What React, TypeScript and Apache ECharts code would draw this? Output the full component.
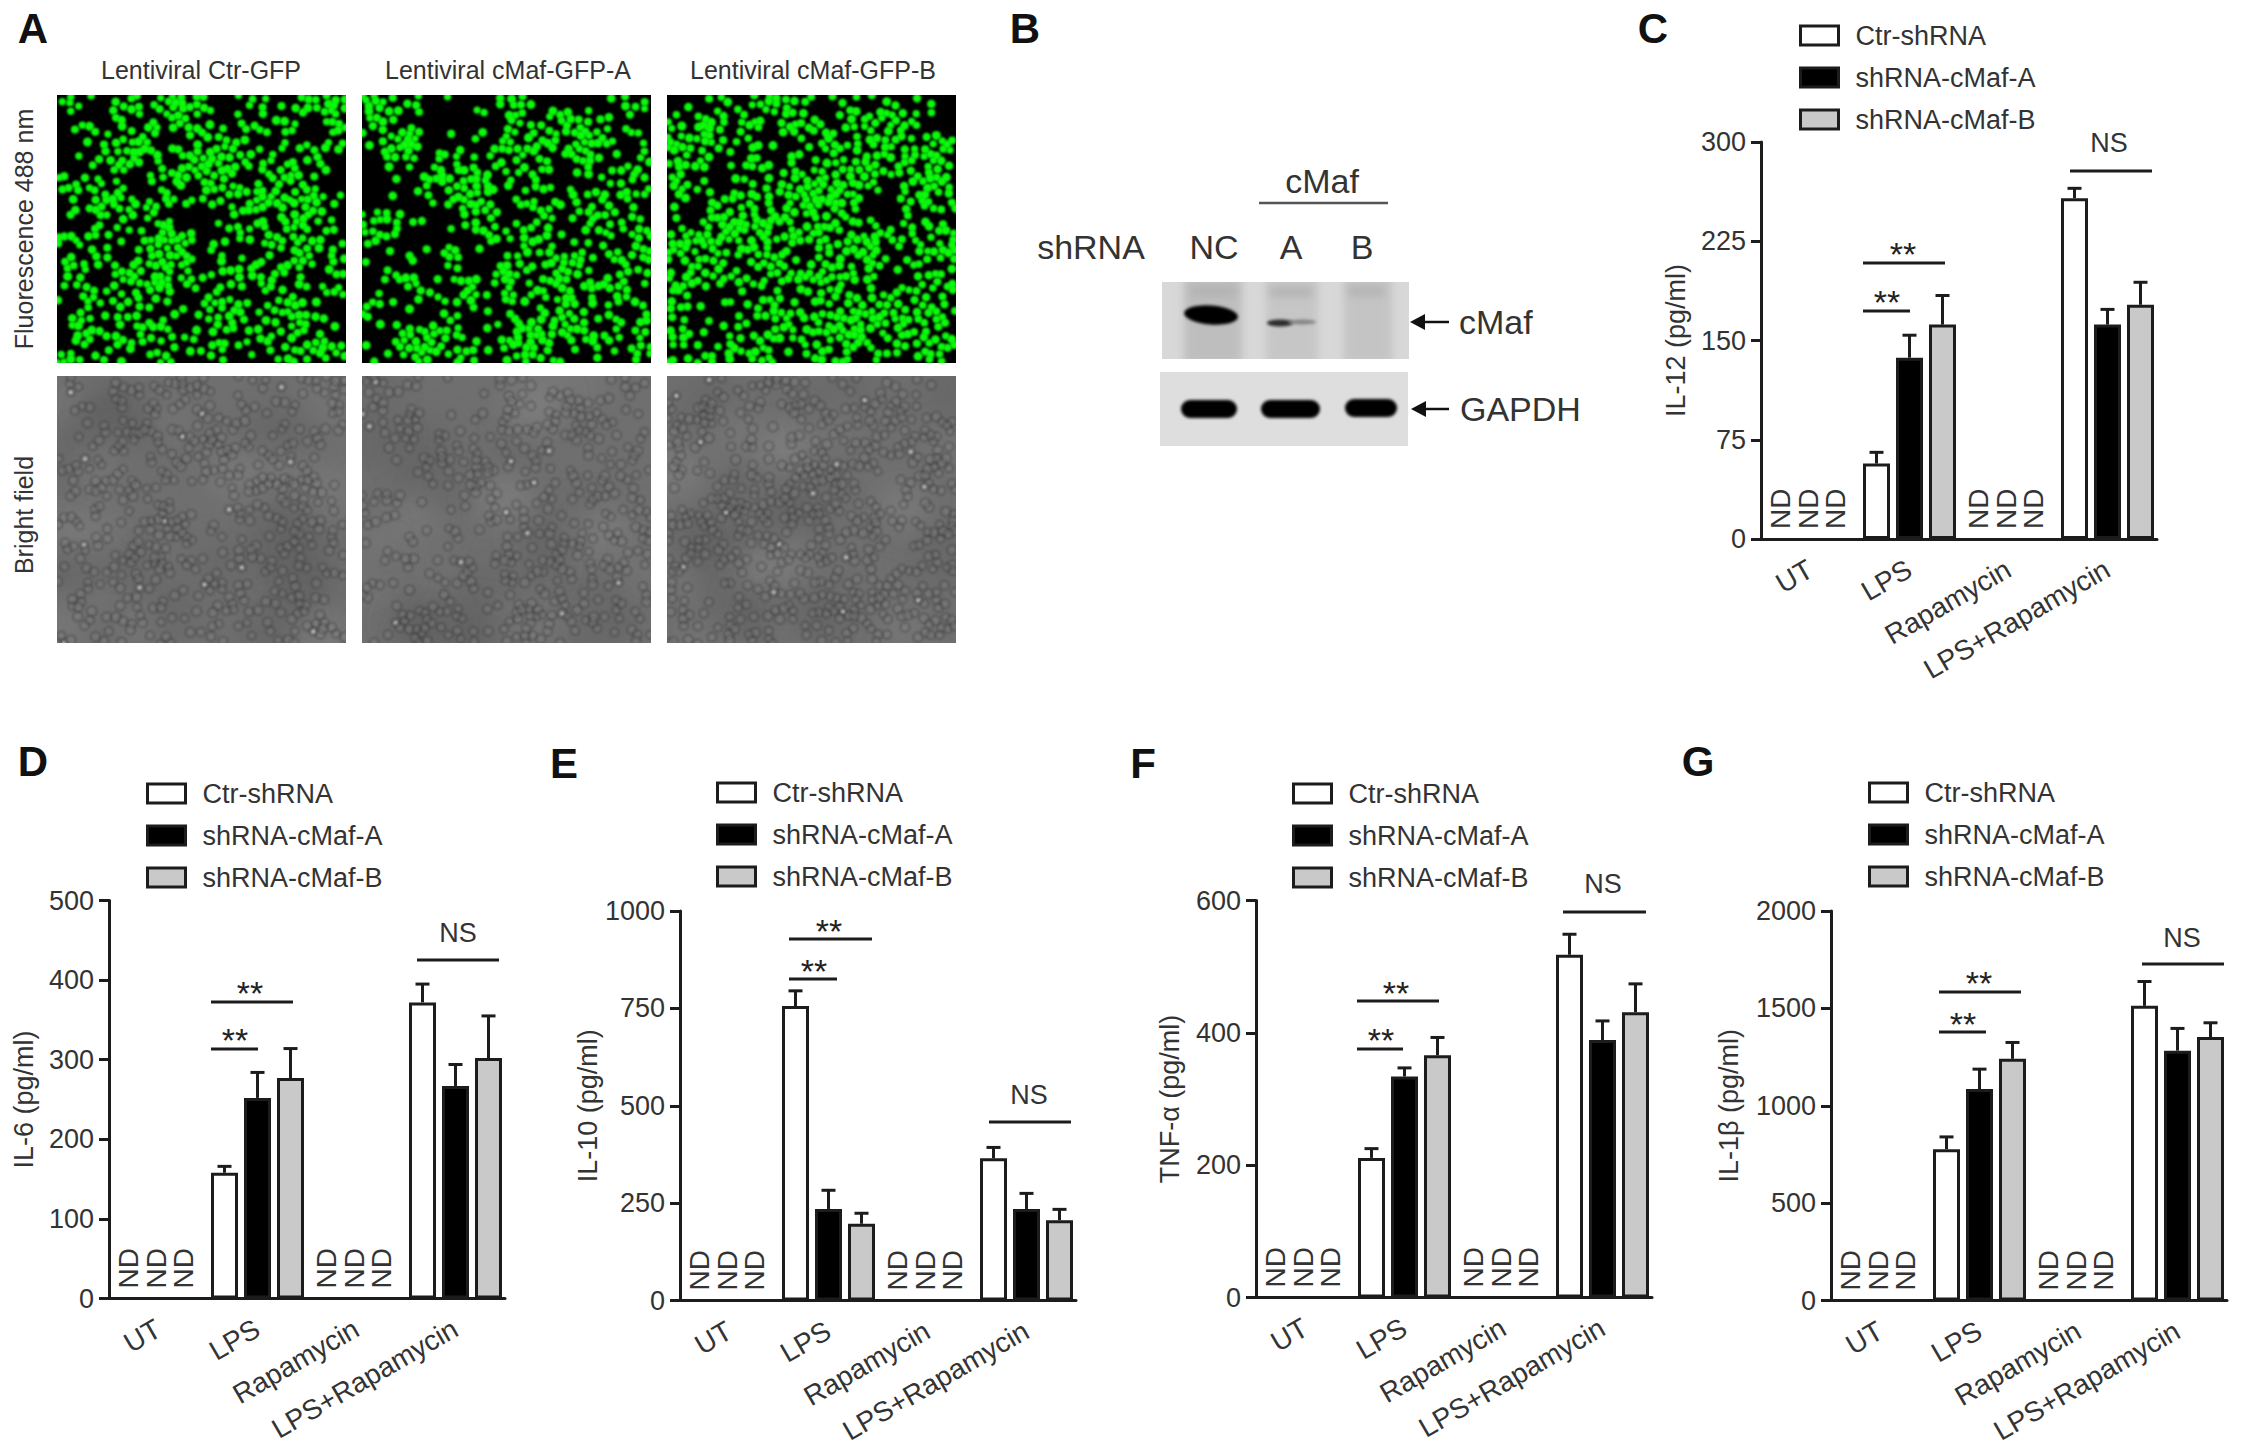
import React, { useEffect, useRef } from "react";
import * as echarts from "echarts";

const categories = ["UT", "LPS", "Rapamycin", "LPS+Rapamycin"];
const groupNames = ["Ctr-shRNA", "shRNA-cMaf-A", "shRNA-cMaf-B"];
const ndCategories = [0, 2];

// Values. null = not detected (ND).
const il12Ctr = [null, 57, null, 257.5];
const il12A = [null, 137, null, 162];
const il12B = [null, 162, null, 177];
const il12CtrErr = [null, 8.5, null, 7.5];
const il12AErr = [null, 17, null, 11.5];
const il12BErr = [null, 22, null, 17];

const il6Ctr = [null, 158, null, 372];
const il6A = [null, 252, null, 267];
const il6B = [null, 277, null, 302];
const il6CtrErr = [null, 8, null, 23];
const il6AErr = [null, 32, null, 27];
const il6BErr = [null, 37, null, 53];

const il10Ctr = [null, 756, null, 365];
const il10A = [null, 235, null, 235];
const il10B = [null, 197, null, 206];
const il10CtrErr = [null, 39, null, 28];
const il10AErr = [null, 48, null, 40];
const il10BErr = [null, 27, null, 28];

const tnfCtr = [null, 211, null, 518];
const tnfA = [null, 334, null, 389];
const tnfB = [null, 366, null, 431];
const tnfCtrErr = [null, 14, null, 31];
const tnfAErr = [null, 13, null, 29];
const tnfBErr = [null, 27, null, 43];

const il1Ctr = [null, 777, null, 1513];
const il1A = [null, 1086, null, 1283];
const il1B = [null, 1241, null, 1353];
const il1CtrErr = [null, 63, null, 125];
const il1AErr = [null, 102, null, 114];
const il1BErr = [null, 84, null, 73];

const INK = "#1c1c1c";
const TXT = "#333333";
const FONT = '"Liberation Sans", Arial, sans-serif';
const fills = ["#ffffff", "#000000", "#c9c9c9"];

const panels = [
  { name: "IL-12 (pg/ml)", max: 300, step: 75, left: 1761, top: 142, bottom: 539, gap: 72, legendLeft: 1799, legendTop: 22,
    means: [il12Ctr, il12A, il12B], errs: [il12CtrErr, il12AErr, il12BErr],
    ns: [2109, 143, 2070, 2152, 171], s1: [1903, 247, 1863, 1945, 263], s2: [1887, 295, 1863, 1910, 311] },
  { name: "IL-6 (pg/ml)", max: 500, step: 100, left: 109, top: 900.5, bottom: 1298.5, gap: 72, legendLeft: 146, legendTop: 780,
    means: [il6Ctr, il6A, il6B], errs: [il6CtrErr, il6AErr, il6BErr],
    ns: [458, 933, 417, 499, 960], s1: [250, 986, 211, 293, 1002], s2: [235, 1033, 211, 258, 1049] },
  { name: "IL-10 (pg/ml)", max: 1000, step: 250, left: 680, top: 911, bottom: 1300.5, gap: 74, legendLeft: 716, legendTop: 779,
    means: [il10Ctr, il10A, il10B], errs: [il10CtrErr, il10AErr, il10BErr],
    ns: [1029, 1095, 989, 1071, 1122], s1: [829, 924, 789, 872, 939], s2: [814, 964, 789, 837, 979] },
  { name: "TNF-α (pg/ml)", max: 600, step: 200, left: 1256, top: 900.5, bottom: 1297.5, gap: 73, legendLeft: 1292, legendTop: 780,
    means: [tnfCtr, tnfA, tnfB], errs: [tnfCtrErr, tnfAErr, tnfBErr],
    ns: [1603, 884, 1563, 1646, 912], s1: [1396, 986, 1357, 1439, 1001], s2: [1381, 1033, 1357, 1403, 1049] },
  { name: "IL-1β (pg/ml)", max: 2000, step: 500, left: 1831, top: 911, bottom: 1300.5, gap: 89, legendLeft: 1868, legendTop: 779,
    means: [il1Ctr, il1A, il1B], errs: [il1CtrErr, il1AErr, il1BErr],
    ns: [2182, 938, 2142, 2224, 964], s1: [1979, 976, 1939, 2021, 992], s2: [1963, 1017, 1939, 1986, 1032] },
];

// Stand-in micrograph textures: cell density per 15x14 block.
const maskCtr = ["753668983574689","463737863666538","116983577545546","156846788766662","874456777656751","449867646798774","546647335766872","765569915567775","656589916455846","663779735776516","476567368557656","364774467747843","585687357665763","865647456437877"];
const maskA = ["977132367224356","766211386578762","489235387769634","266387545748566","122789755745447","333559627365756","873447724727666","851223747646738","435373367777478","276356576587676","635648375697575","724364355766556","158875359977656","448877468634558"];
const maskB = ["246468763747651","768674875678721","987563348767778","773373757886886","862446788774696","637776798832788","548887687642653","787778877687758","887678647775588","788667778763377","633657577668767","752367767888786","754647768977766","776786477765477"];

function makeDots(mask: string[], w: number, h: number, seed: number) {
  let s = seed;
  const rnd = () => { s = (s * 1664525 + 1013904223) % 4294967296; return s / 4294967296; };
  const cw = w / 15, ch = h / mask.length;
  const dots: number[][] = [];
  mask.forEach((row, r) => {
    for (let c = 0; c < row.length; c++) {
      const d = Number(row[c]);
      const n = Math.floor(d * d * 0.085 + rnd());
      for (let i = 0; i < n; i++) {
        for (let t = 0; t < 14; t++) {
          const x = (c + rnd()) * cw, y = (r + rnd()) * ch;
          if (dots.every((q) => (q[0] - x) * (q[0] - x) + (q[1] - y) * (q[1] - y) > 30)) {
            dots.push([x, y, 3.6 + rnd() * 1]);
            break;
          }
        }
      }
    }
  });
  return dots;
}

function newCanvas(w: number, h: number) {
  const c = document.createElement("canvas");
  c.width = w; c.height = h;
  return [c, c.getContext("2d") as CanvasRenderingContext2D] as const;
}

function fluorescence(dots: number[][], w: number, h: number) {
  const [c, x] = newCanvas(w, h);
  x.fillStyle = "#000"; x.fillRect(0, 0, w, h);
  x.filter = "blur(0.8px)";
  x.fillStyle = "#0cfa0c";
  dots.forEach((d) => { x.beginPath(); x.arc(d[0], d[1], d[2], 0, Math.PI * 2); x.fill(); });
  return c.toDataURL();
}

function brightField(dots: number[][], w: number, h: number, seed: number) {
  const [c, x] = newCanvas(w, h);
  x.fillStyle = "#6f6f6f"; x.fillRect(0, 0, w, h);
  let s = seed;
  const rnd = () => { s = (s * 1664525 + 1013904223) % 4294967296; return s / 4294967296; };
  x.filter = "blur(14px)";
  for (let i = 0; i < 40; i++) {
    x.fillStyle = rnd() > 0.5 ? "rgba(135,135,135,0.35)" : "rgba(88,88,88,0.3)";
    x.beginPath(); x.arc(rnd() * w, rnd() * h, 12 + rnd() * 22, 0, Math.PI * 2); x.fill();
  }
  x.filter = "blur(1.1px)";
  dots.forEach((d, i) => {
    if (i % 4 === 0) return;
    x.strokeStyle = "rgba(58,58,58,0.55)"; x.lineWidth = 1.3;
    x.beginPath(); x.arc(d[0], d[1], d[2] + 0.4, 0, Math.PI * 2); x.stroke();
    x.fillStyle = "rgba(140,140,140,0.25)";
    x.beginPath(); x.arc(d[0], d[1], d[2] - 1.2, 0, Math.PI * 2); x.fill();
    if (i % 37 === 1) { x.fillStyle = "rgba(225,225,225,0.9)"; x.beginPath(); x.arc(d[0], d[1], 1.5, 0, Math.PI * 2); x.fill(); }
  });
  return c.toDataURL();
}

function blotTop(w: number, h: number) {
  const [c, x] = newCanvas(w, h);
  x.fillStyle = "#d8d8d8"; x.fillRect(0, 0, w, h);
  x.filter = "blur(4px)";
  [[22, 58, "#bebebe"], [104, 52, "#c6c6c6"], [182, 48, "#c4c4c4"]].forEach((l: any) => { x.fillStyle = l[2]; x.fillRect(l[0], -5, l[1], h + 10); });
  x.fillStyle = "#b0b0b0";
  [[28, 5, 46], [108, 6, 42], [186, 5, 36]].forEach((l) => x.fillRect(l[0], l[1], l[2], 8));
  x.filter = "blur(1.6px)";
  x.fillStyle = "#000";
  x.beginPath(); x.ellipse(49, 33, 27, 9.5, 0.08, 0, Math.PI * 2); x.fill();
  x.fillStyle = "#2c2c2c";
  x.beginPath(); x.ellipse(118, 41, 13, 3.4, 0, 0, Math.PI * 2); x.fill();
  x.fillStyle = "#858585";
  x.beginPath(); x.ellipse(140, 40, 14, 2.6, 0, 0, Math.PI * 2); x.fill();
  return c.toDataURL();
}

function blotBottom(w: number, h: number) {
  const [c, x] = newCanvas(w, h);
  x.fillStyle = "#dedede"; x.fillRect(0, 0, w, h);
  x.filter = "blur(1.6px)";
  x.fillStyle = "#000";
  [[21, 28, 56, 18], [101, 28, 59, 18], [185, 27, 52, 18]].forEach((b) => {
    x.beginPath(); x.roundRect(b[0], b[1], b[2], b[3], 9); x.fill();
  });
  return c.toDataURL();
}

function text(s: string, x: number, y: number, font: string, extra: any = {}) {
  return { type: "text", x, y, silent: true, rotation: extra.rotation || 0,
    style: { text: s, font, fill: extra.fill || TXT, align: extra.align || "center", verticalAlign: "middle" } };
}
const hline = (x1: number, x2: number, y: number, stroke = INK, w = 3) => ({
  type: "line", silent: true, shape: { x1, y1: y, x2, y2: y }, style: { stroke, lineWidth: w } });
const star = (x: number, y: number) => text("**", x, y + 7, `34px ${FONT}`, { fill: "#222" });
const arrow = (x1: number, x2: number, y: number) => [
  hline(x1 + 12, x2, y, "#111", 2.5),
  { type: "polygon", silent: true, shape: { points: [[x1, y], [x1 + 15, y - 8], [x1 + 15, y + 8]] }, style: { fill: "#111" } },
];
const img = (image: string, x: number, y: number, width: number, height: number) => ({
  type: "image", silent: true, x, y, style: { image, x: 0, y: 0, width, height } });

function buildOption() {
  const W = 289, H = 268, H2 = 267;
  const d1 = makeDots(maskCtr, W, H, 11), d2 = makeDots(maskA, W, H, 29), d3 = makeDots(maskB, W, H, 53);
  const columns = [57, 362, 667];
  const graphics: any[] = [];
  [d1, d2, d3].forEach((d, i) => {
    graphics.push(img(fluorescence(d, W, H), columns[i], 95, W, H));
    graphics.push(img(brightField(d, W, H2, 97 + i), columns[i], 376, W, H2));
  });
  graphics.push(img(blotTop(247, 77), 1162, 282, 247, 77));
  graphics.push(img(blotBottom(248, 74), 1160, 372, 248, 74));

  const F25 = `25px ${FONT}`, F34 = `34px ${FONT}`, BOLD = `bold 42px ${FONT}`;
  graphics.push(
    text("Lentiviral Ctr-GFP", 201, 70, F25), text("Lentiviral cMaf-GFP-A", 508, 70, F25), text("Lentiviral cMaf-GFP-B", 813, 70, F25),
    text("Fluorescence 488 nm", 24, 229, F25, { rotation: Math.PI / 2 }), text("Bright field", 24, 515, F25, { rotation: Math.PI / 2 }),
    text("A", 33, 28, BOLD, { fill: "#111" }), text("B", 1025, 28, BOLD, { fill: "#111" }), text("C", 1653, 28, BOLD, { fill: "#111" }),
    text("D", 33, 761, BOLD, { fill: "#111" }), text("E", 564, 763, BOLD, { fill: "#111" }), text("F", 1143, 763, BOLD, { fill: "#111" }), text("G", 1698, 761, BOLD, { fill: "#111" }),
    text("cMaf", 1322, 181, F34), hline(1259, 1388, 203, "#555", 2.5),
    text("shRNA", 1091, 247, F34), text("NC", 1214, 247, F34), text("A", 1291, 247, F34), text("B", 1362, 247, F34),
    ...arrow(1410, 1449, 322), ...arrow(1411, 1449, 409),
    text("cMaf", 1459, 322, F34, { align: "left" }), text("GAPDH", 1460, 409, F34, { align: "left" }),
  );

  const grid: any[] = [], xAxis: any[] = [], yAxis: any[] = [], legend: any[] = [], series: any[] = [];
  panels.forEach((p, pi) => {
    grid.push({ left: p.left, top: p.top, width: 396, height: p.bottom - p.top });
    xAxis.push({
      type: "category", gridIndex: pi, data: categories,
      axisLine: { lineStyle: { color: INK, width: 3 } },
      axisTick: { alignWithLabel: true, length: 9, lineStyle: { color: INK, width: 3 } },
      axisLabel: { interval: 0, rotate: 30, margin: 28, color: TXT, fontFamily: FONT, fontSize: 28 },
    });
    yAxis.push({
      type: "value", gridIndex: pi, min: 0, max: p.max, interval: p.step,
      name: p.name, nameLocation: "middle", nameGap: p.gap,
      nameTextStyle: { color: TXT, fontFamily: FONT, fontSize: 27 },
      splitLine: { show: false },
      axisLine: { show: true, lineStyle: { color: INK, width: 3 } },
      axisTick: { show: true, length: 10, lineStyle: { color: INK, width: 3 } },
      axisLabel: { margin: 15, color: TXT, fontFamily: FONT, fontSize: 27, formatter: (v: number) => String(v) },
    });
    legend.push({
      data: groupNames, orient: "vertical", left: p.legendLeft, top: p.legendTop, padding: 0,
      itemWidth: 38, itemHeight: 19, itemGap: 15, selectedMode: false, icon: "rect",
      itemStyle: { borderWidth: 3 },
      textStyle: { color: TXT, fontFamily: FONT, fontSize: 27, lineHeight: 20, padding: [0, 0, 0, 12] },
    });
    p.means.forEach((vals, si) => {
      series.push({
        type: "bar", name: groupNames[si], xAxisIndex: pi, yAxisIndex: pi, data: vals,
        barWidth: 27, barGap: "22.2%",
        itemStyle: { color: fills[si], borderColor: INK, borderWidth: 3 },
      });
    });
    p.means.forEach((vals, si) => {
      const off = (si - 1) * 33;
      series.push({
        type: "custom", xAxisIndex: pi, yAxisIndex: pi, silent: true, z: 1, clip: false,
        data: vals.map((v, ci) => (v === null ? null : [ci, v, p.errs[si][ci]])).filter(Boolean),
        encode: { x: 0, y: 1 },
        renderItem: (_: any, api: any) => {
          const base = api.coord([api.value(0), api.value(1)]);
          const top = api.coord([api.value(0), api.value(1) + api.value(2)]);
          const x = base[0] + off;
          const style = { stroke: INK, lineWidth: 3 };
          return { type: "group", children: [
            { type: "line", shape: { x1: x, y1: base[1], x2: x, y2: top[1] }, style },
            { type: "line", shape: { x1: x - 7, y1: top[1], x2: x + 7, y2: top[1] }, style },
          ] };
        },
      });
    });
    const ndOffsets = [-30, -2, 25];
    const ndData: number[][] = [];
    ndCategories.forEach((c) => ndOffsets.forEach((o) => ndData.push([c, 0, o])));
    series.push({
      type: "custom", xAxisIndex: pi, yAxisIndex: pi, silent: true, data: ndData, encode: { x: 0, y: 1 }, clip: false,
      renderItem: (_: any, api: any) => {
        const pt = api.coord([api.value(0), 0]);
        return { type: "text", x: pt[0] + api.value(2), y: pt[1] - 10, rotation: Math.PI / 2,
          style: { text: "ND", font: `28px ${FONT}`, fill: TXT, align: "left", verticalAlign: "middle" } };
      },
    });
    graphics.push(
      text("NS", p.ns[0], p.ns[1], `27px ${FONT}`), hline(p.ns[2], p.ns[3], p.ns[4]),
      star(p.s1[0], p.s1[1]), hline(p.s1[2], p.s1[3], p.s1[4]),
      star(p.s2[0], p.s2[1]), hline(p.s2[2], p.s2[3], p.s2[4]),
    );
  });

  return { animation: false, backgroundColor: "#fff", grid, xAxis, yAxis, legend, series, graphic: { elements: graphics } };
}

export default function App() {
  const ref = useRef<HTMLDivElement>(null);
  useEffect(() => {
    document.body.style.margin = "0";
    document.documentElement.style.overflow = "hidden";
    const chart = echarts.init(ref.current as HTMLDivElement, undefined, { renderer: "svg" });
    chart.setOption(buildOption() as any);
    return () => chart.dispose();
  }, []);
  return <div ref={ref} style={{ width: 2244, height: 1449 }} />;
}
